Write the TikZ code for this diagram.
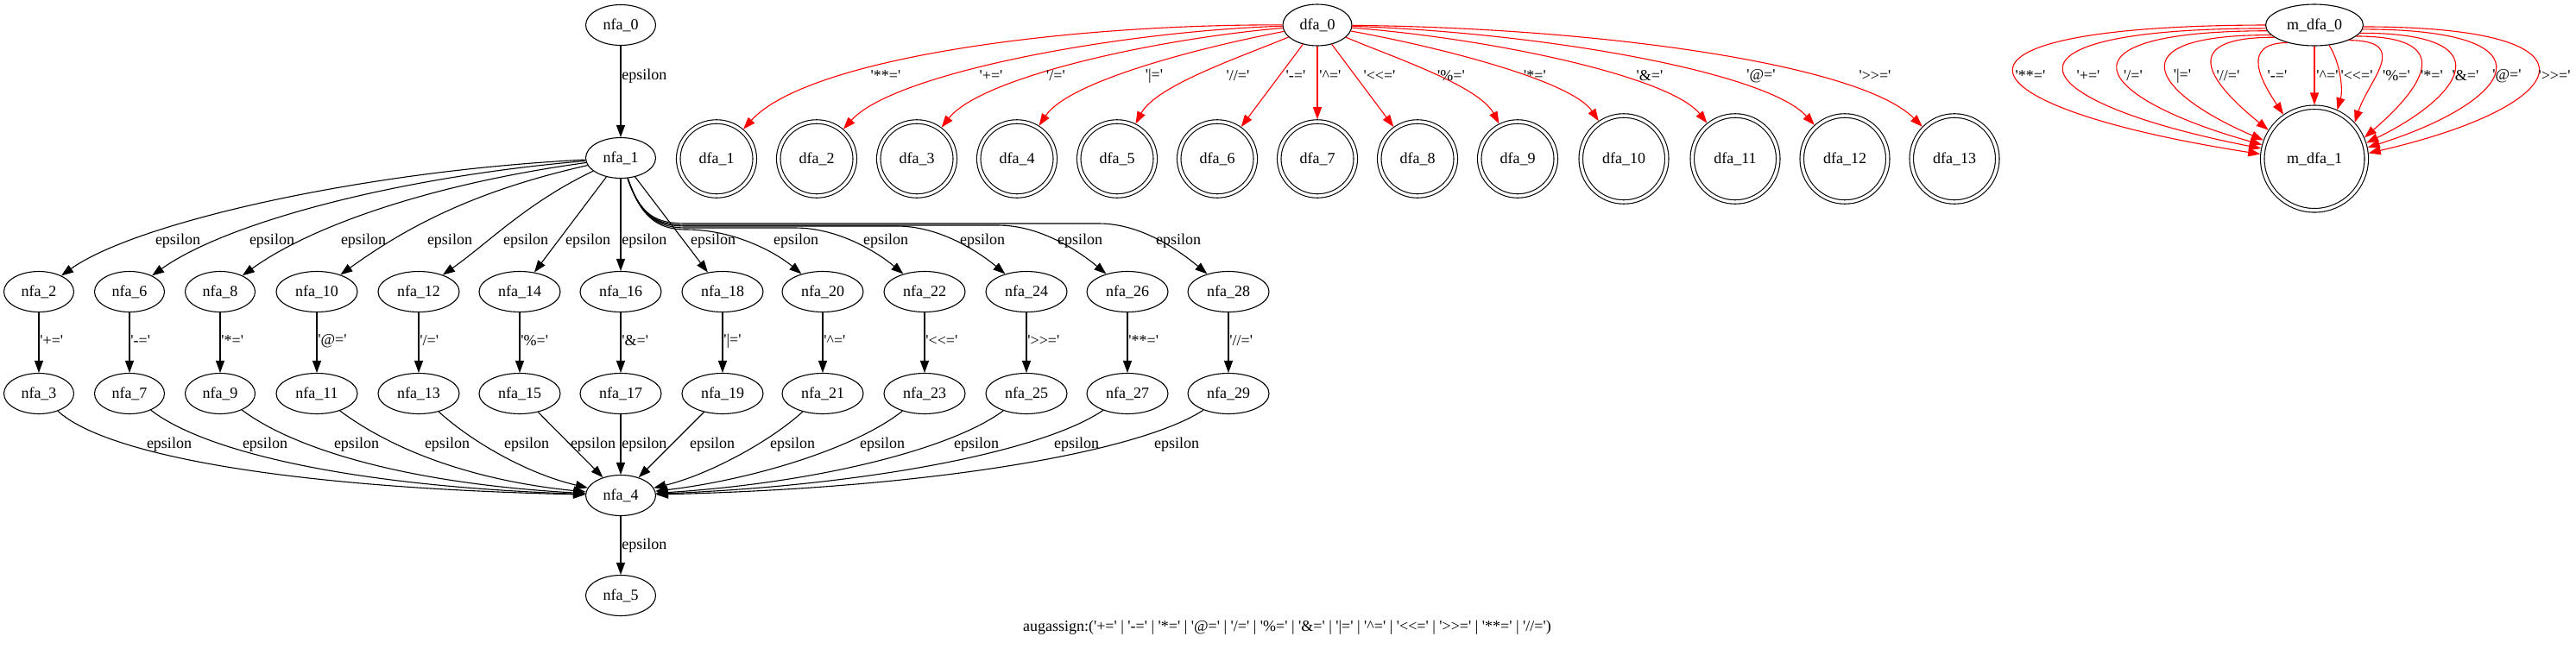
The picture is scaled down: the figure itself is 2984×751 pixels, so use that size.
\documentclass[tikz,border=0pt]{standalone}
\usepackage{fontspec}
\setmainfont{Liberation Serif}[Ligatures=TeXOff]
\usetikzlibrary{arrows.meta,shapes.geometric}
\newcommand\qt[1]{'#1'}
\begin{document}
\begin{tikzpicture}[x=0.5pt,y=-0.5pt,
  every node/.style={font=\fontsize{9}{10}\selectfont},
  st/.style={ellipse,draw,line width=0.55pt,inner sep=0pt,minimum width=40.5pt,minimum height=23.5pt},
  stw/.style={st,minimum width=47pt},
  acc/.style={ellipse,draw,line width=0.55pt,double,double distance=1.7pt,inner sep=0pt,outer sep=1.4pt,minimum width=44.25pt,minimum height=43pt},
  accw/.style={acc,minimum width=49.75pt,minimum height=50pt},
  e/.style={draw,line width=0.55pt,-{Triangle[length=7pt,width=5pt]}},
  re/.style={e,draw=red},
  lab/.style={inner sep=0pt},
  vlab/.style={inner sep=0pt,anchor=west}]
\path[use as bounding box,fill=white] (0,0) rectangle (2984,751);

% ---------------- NFA ----------------
\node[st] (nfa0) at (719,29) {nfa\_0};
\node[st] (nfa1) at (719,183) {nfa\_1};
\node[st] (nfa4) at (719,574) {nfa\_4};
\node[st] (nfa5) at (719,690) {nfa\_5};

\node[st] (nfa2) at (45,338) {nfa\_2};
\node[st] (nfa6) at (150,338) {nfa\_6};
\node[st] (nfa8) at (255,338) {nfa\_8};
\node[stw] (nfa10) at (367,338) {nfa\_10};
\node[stw] (nfa12) at (485,338) {nfa\_12};
\node[stw] (nfa14) at (602,338) {nfa\_14};
\node[stw] (nfa16) at (719,338) {nfa\_16};
\node[stw] (nfa18) at (837,338) {nfa\_18};
\node[stw] (nfa20) at (953,338) {nfa\_20};
\node[stw] (nfa22) at (1071,338) {nfa\_22};
\node[stw] (nfa24) at (1189,338) {nfa\_24};
\node[stw] (nfa26) at (1306,338) {nfa\_26};
\node[stw] (nfa28) at (1423,338) {nfa\_28};

\node[st] (nfa3) at (45,456) {nfa\_3};
\node[st] (nfa7) at (150,456) {nfa\_7};
\node[st] (nfa9) at (255,456) {nfa\_9};
\node[stw] (nfa11) at (367,456) {nfa\_11};
\node[stw] (nfa13) at (485,456) {nfa\_13};
\node[stw] (nfa15) at (602,456) {nfa\_15};
\node[stw] (nfa17) at (719,456) {nfa\_17};
\node[stw] (nfa19) at (837,456) {nfa\_19};
\node[stw] (nfa21) at (953,456) {nfa\_21};
\node[stw] (nfa23) at (1071,456) {nfa\_23};
\node[stw] (nfa25) at (1189,456) {nfa\_25};
\node[stw] (nfa27) at (1306,456) {nfa\_27};
\node[stw] (nfa29) at (1423,456) {nfa\_29};

\draw[e] (nfa0) -- (nfa1);
\node[vlab] (l01) at (720,88) {epsilon};
\draw[e] (nfa4) -- (nfa5);
\node[vlab] (l45) at (720,632) {epsilon};

% nfa_1 -> first row
\draw[e] (nfa1) .. controls (420,198) and (157,258) .. (nfa2);
\draw[e] (nfa1) .. controls (460,205) and (262,258) .. (nfa6);
\draw[e] (nfa1) .. controls (500,213) and (360,262) .. (nfa8);
\draw[e] (nfa1) .. controls (545,222) and (467,266) .. (nfa10);
\draw[e] (nfa1) .. controls (610,235) and (565,282) .. (nfa12);
\draw[e] (nfa1) -- (nfa14);
\draw[e] (nfa1) -- (nfa16);
\draw[e] (nfa1) -- (nfa18);
\draw[e] (nfa1) .. controls (742,250) and (760,266) .. (795,266) .. controls (850,266) and (898,292) .. (nfa20);
\draw[e] (nfa1) .. controls (742,250) and (760,264) .. (795,264) -- (921,264) .. controls (971,264) and (1016,292) .. (nfa22);
\draw[e] (nfa1) .. controls (742,250) and (760,262) .. (795,262) -- (1039,262) .. controls (1089,262) and (1134,292) .. (nfa24);
\draw[e] (nfa1) .. controls (742,250) and (760,261) .. (795,261) -- (1156,261) .. controls (1206,261) and (1251,292) .. (nfa26);
\draw[e] (nfa1) .. controls (742,250) and (760,259) .. (795,259) -- (1273,259) .. controls (1323,259) and (1368,292) .. (nfa28);

\node[lab] (t2) at (206,279) {epsilon};
\node[lab] (t6) at (315,279) {epsilon};
\node[lab] (t8) at (421,279) {epsilon};
\node[lab] (t10) at (521,279) {epsilon};
\node[lab] (t12) at (609,279) {epsilon};
\node[lab] (t14) at (681,279) {epsilon};
\node[vlab] (t16) at (720,279) {epsilon};
\node[lab] (t18) at (826,279) {epsilon};
\node[lab] (t20) at (922,279) {epsilon};
\node[lab] (t22) at (1026,279) {epsilon};
\node[lab] (t24) at (1138,279) {epsilon};
\node[lab] (t26) at (1251,279) {epsilon};
\node[lab] (t28) at (1365,279) {epsilon};

% vertical symbol edges
\draw[e] (nfa2) -- (nfa3);   \node[vlab] (v2) at (46,395) {\qt{+=}};
\draw[e] (nfa6) -- (nfa7);   \node[vlab] (v6) at (151,395) {\qt{-=}};
\draw[e] (nfa8) -- (nfa9);   \node[vlab] (v8) at (256,395) {\qt{*=}};
\draw[e] (nfa10) -- (nfa11); \node[vlab] (v10) at (368,395) {\qt{@=}};
\draw[e] (nfa12) -- (nfa13); \node[vlab] (v12) at (486,395) {\qt{/=}};
\draw[e] (nfa14) -- (nfa15); \node[vlab] (v14) at (603,395) {\qt{\%=}};
\draw[e] (nfa16) -- (nfa17); \node[vlab] (v16) at (720,395) {\qt{\&=}};
\draw[e] (nfa18) -- (nfa19); \node[vlab] (v18) at (838,395) {\qt{|=}};
\draw[e] (nfa20) -- (nfa21); \node[vlab] (v20) at (954,395) {\qt{\textasciicircum=}};
\draw[e] (nfa22) -- (nfa23); \node[vlab] (v22) at (1072,395) {\qt{<<=}};
\draw[e] (nfa24) -- (nfa25); \node[vlab] (v24) at (1190,395) {\qt{>>=}};
\draw[e] (nfa26) -- (nfa27); \node[vlab] (v26) at (1307,395) {\qt{**=}};
\draw[e] (nfa28) -- (nfa29); \node[vlab] (v28) at (1424,395) {\qt{//=}};

% second row -> nfa_4
\draw[e] (nfa3) .. controls (120,525) and (320,565) .. (nfa4);
\draw[e] (nfa7) .. controls (235,522) and (400,563) .. (nfa4);
\draw[e] (nfa9) .. controls (340,520) and (470,560) .. (nfa4);
\draw[e] (nfa11) .. controls (450,518) and (540,556) .. (nfa4);
\draw[e] (nfa13) .. controls (550,515) and (615,550) .. (nfa4);
\draw[e] (nfa15) -- (nfa4);
\draw[e] (nfa17) -- (nfa4);
\draw[e] (nfa19) -- (nfa4);
\draw[e] (nfa21) .. controls (888,515) and (815,552) .. (nfa4);
\draw[e] (nfa23) .. controls (990,520) and (870,556) .. (nfa4);
\draw[e] (nfa25) .. controls (1100,522) and (940,560) .. (nfa4);
\draw[e] (nfa27) .. controls (1210,522) and (1010,562) .. (nfa4);
\draw[e] (nfa29) .. controls (1323,522) and (1090,565) .. (nfa4);

\node[lab] (b3) at (196,515) {epsilon};
\node[lab] (b7) at (307,515) {epsilon};
\node[lab] (b9) at (413,515) {epsilon};
\node[lab] (b11) at (518,515) {epsilon};
\node[lab] (b13) at (610,515) {epsilon};
\node[lab] (b15) at (687,515) {epsilon};
\node[vlab] (b17) at (720,515) {epsilon};
\node[lab] (b19) at (825,515) {epsilon};
\node[lab] (b21) at (918,515) {epsilon};
\node[lab] (b23) at (1022,515) {epsilon};
\node[lab] (b25) at (1131,515) {epsilon};
\node[lab] (b27) at (1247,515) {epsilon};
\node[lab] (b29) at (1363,515) {epsilon};

% ---------------- DFA ----------------
\node[st,minimum width=40pt,minimum height=24pt] (dfa0) at (1526,29) {dfa\_0};
\node[acc] (dfa1) at (830,184) {dfa\_1};
\node[acc] (dfa2) at (946,184) {dfa\_2};
\node[acc] (dfa3) at (1062,184) {dfa\_3};
\node[acc] (dfa4) at (1178,184) {dfa\_4};
\node[acc] (dfa5) at (1294,184) {dfa\_5};
\node[acc] (dfa6) at (1410,184) {dfa\_6};
\node[acc] (dfa7) at (1526,184) {dfa\_7};
\node[acc] (dfa8) at (1642,184) {dfa\_8};
\node[acc] (dfa9) at (1758,184) {dfa\_9};
\node[accw] (dfa10) at (1881,184) {dfa\_10};
\node[accw] (dfa11) at (2010,184) {dfa\_11};
\node[accw] (dfa12) at (2137,184) {dfa\_12};
\node[accw] (dfa13) at (2264,184) {dfa\_13};

\draw[re] (dfa0) .. controls (1230,28) and (935,68) .. (dfa1);
\draw[re] (dfa0) .. controls (1300,36) and (1036,84) .. (dfa2);
\draw[re] (dfa0) .. controls (1340,45) and (1137,89) .. (dfa3);
\draw[re] (dfa0) .. controls (1390,55) and (1238,94) .. (dfa4);
\draw[re] (dfa0) .. controls (1440,65) and (1339,99) .. (dfa5);
\draw[re] (dfa0) -- (dfa6);
\draw[re] (dfa0) -- (dfa7);
\draw[re] (dfa0) -- (dfa8);
\draw[re] (dfa0) .. controls (1610,65) and (1713,99) .. (dfa9);
\draw[re] (dfa0) .. controls (1670,55) and (1821,94) .. (dfa10);
\draw[re] (dfa0) .. controls (1730,45) and (1935,89) .. (dfa11);
\draw[re] (dfa0) .. controls (1790,38) and (2047,84) .. (dfa12);
\draw[re] (dfa0) .. controls (1850,32) and (2154,74) .. (dfa13);

\node[lab] (d1) at (1026,88) {\qt{**=}};
\node[lab] (d2) at (1148,88) {\qt{+=}};
\node[lab] (d3) at (1223,88) {\qt{/=}};
\node[lab] (d4) at (1337,88) {\qt{|=}};
\node[lab] (d5) at (1434,88) {\qt{//=}};
\node[lab] (d6) at (1501,88) {\qt{-=}};
\node[vlab] (d7) at (1528,88) {\qt{\textasciicircum=}};
\node[lab] (d8) at (1598,88) {\qt{<<=}};
\node[lab] (d9) at (1681,88) {\qt{\%=}};
\node[lab] (d10) at (1778,88) {\qt{*=}};
\node[lab] (d11) at (1911,88) {\qt{\&=}};
\node[lab] (d12) at (2040,88) {\qt{@=}};
\node[lab] (d13) at (2172,88) {\qt{>>=}};

% ---------------- minimal DFA ----------------
\node[st,minimum width=56.5pt,minimum height=24pt] (m0) at (2681,29) {m\_dfa\_0};
\node[acc,minimum width=60.25pt,minimum height=59.75pt] (m1) at (2681,184) {m\_dfa\_1};

\draw[re] (m0.180) .. controls (2212,30) and (2262,123) .. (m1.175);
\draw[re] (m0.184) .. controls (2289,33) and (2339,117) .. (m1.169);
\draw[re] (m0.187) .. controls (2372,36) and (2422,112) .. (m1.165);
\draw[re] (m0.193) .. controls (2445,40) and (2495,108) .. (m1.160);
\draw[re] (m0.197) .. controls (2515,43) and (2565,100) .. (m1.148);
\draw[re] (m0.213) .. controls (2594,50) and (2620,95) .. (m1.125);
\draw[re] (m0) -- (m1);
\draw[re] (m0.306) .. controls (2712,75) and (2714,105) .. (m1.65);
\draw[re] (m0.336) .. controls (2794,47) and (2744,92) .. (m1.42);
\draw[re] (m0.345) .. controls (2852,42) and (2802,105) .. (m1.23);
\draw[re] (m0.350) .. controls (2903,38) and (2853,111) .. (m1.17);
\draw[re] (m0.355) .. controls (2965,34) and (2915,116) .. (m1.12);
\draw[re] (m0.358) .. controls (3031,31) and (2981,123) .. (m1.6);

\node[lab] (m1l) at (2352,88) {\qt{**=}};
\node[lab] (m2l) at (2419,88) {\qt{+=}};
\node[lab] (m3l) at (2471,88) {\qt{/=}};
\node[lab] (m4l) at (2528,88) {\qt{|=}};
\node[lab] (m5l) at (2581,88) {\qt{//=}};
\node[lab] (m6l) at (2638,88) {\qt{-=}};
\node[vlab] (m7l) at (2683,88) {\qt{\textasciicircum=}};
\node[lab] (m8l) at (2730,88) {\qt{<<=}};
\node[lab] (m9l) at (2776,88) {\qt{\%=}};
\node[lab] (m10l) at (2817,88) {\qt{*=}};
\node[lab] (m11l) at (2856,88) {\qt{\&=}};
\node[lab] (m12l) at (2904,88) {\qt{@=}};
\node[lab] (m13l) at (2959,88) {\qt{>>=}};

% caption
\node[lab] (cap) at (1491,727) {augassign:(\qt{+=} | \qt{-=} | \qt{*=} | \qt{@=} | \qt{/=} | \qt{\%=} | \qt{\&=} | \qt{|=} | \qt{\textasciicircum=} | \qt{<<=} | \qt{>>=} | \qt{**=} | \qt{//=})};
\end{tikzpicture}
\end{document}
